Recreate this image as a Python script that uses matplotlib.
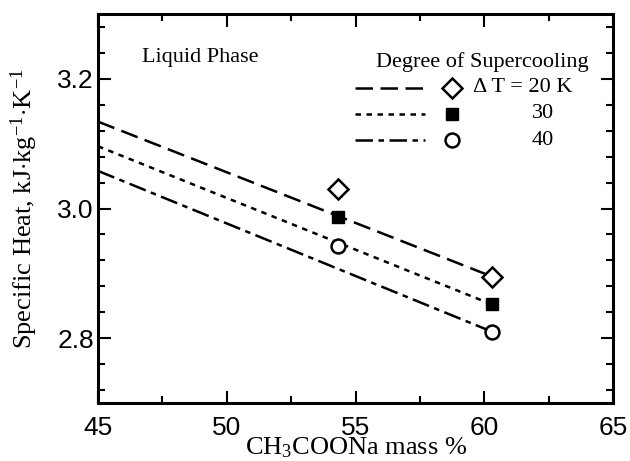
import matplotlib
matplotlib.use('Agg')
import matplotlib.pyplot as plt
from matplotlib.ticker import MultipleLocator

# measured points (CH3COONa mass %, specific heat)
mass = [54.3, 60.3]
cp_20 = [3.030, 2.895]
cp_30 = [2.987, 2.852]
cp_40 = [2.942, 2.810]

# fitted lines, from 45 % to the last measurement
line_x = [45.0, 60.3]
line_20 = [3.134, 2.895]
line_30 = [3.096, 2.852]
line_40 = [3.058, 2.810]

labels = ['\u0394 T = 20 K', '30', '40']

plt.rcParams['mathtext.fontset'] = 'custom'
plt.rcParams['mathtext.rm'] = 'Liberation Serif'
plt.rcParams['mathtext.it'] = 'Liberation Serif:italic'

serif = 'Liberation Serif'
sans = 'Liberation Sans'

fig = plt.figure(figsize=(6.3, 4.61), dpi=100)
ax = fig.add_axes([0.1556, 0.1258, 0.8175, 0.8438])

styles = [(0, (7, 3)), (0, (2.2, 2.2)), (0, (7, 2.2, 2.2, 2.2))]
mk = [dict(marker='D', ms=10.5, mfc='white', mec='black', mew=1.8),
      dict(marker='s', ms=9, mfc='black', mec='black', mew=1),
      dict(marker='o', ms=10, mfc='white', mec='black', mew=1.8)]

for lx, ly, ls in zip([line_x] * 3, [line_20, line_30, line_40], styles):
    ax.plot(lx, ly, color='black', lw=1.8, linestyle=ls)
for cp, m in zip([cp_20, cp_30, cp_40], mk):
    ax.plot(mass, cp, linestyle='none', zorder=3, **m)

ax.set_xlim(45, 65)
ax.set_ylim(2.7, 3.3)
ax.xaxis.set_major_locator(MultipleLocator(5))
ax.xaxis.set_minor_locator(MultipleLocator(2.5))
ax.yaxis.set_minor_locator(MultipleLocator(0.04))
ax.set_yticks([2.8, 3.0, 3.2])
ax.set_yticklabels(['2.8', '3.0', '3.2'])
ax.tick_params(which='both', direction='in', top=True, right=True, width=1.5)
ax.tick_params(which='major', length=9)
ax.tick_params(which='minor', length=5)
ax.tick_params(axis='x', pad=9)
ax.tick_params(axis='y', pad=3)
for t in ax.get_xticklabels() + ax.get_yticklabels():
    t.set_fontfamily(sans)
    t.set_fontsize(19)
for s in ax.spines.values():
    s.set_linewidth(2.2)

ax.set_xlabel(r'CH$_3$COONa mass %', fontfamily=serif, fontsize=19)
ax.xaxis.set_label_coords(0.5, -0.083, transform=ax.transAxes)
ax.set_ylabel(r'Specific Heat, kJ$\cdot$kg$^{-1}$$\cdot$K$^{-1}$', fontfamily=serif,
              fontsize=19)
ax.yaxis.set_label_coords(-0.112, 0.5)

ax.text(0.085, 0.889, 'Liquid Phase', transform=ax.transAxes, fontfamily=serif,
        fontsize=16, va='center', ha='left')
ax.text(0.746, 0.877, 'Degree of Supercooling', transform=ax.transAxes,
        fontfamily=serif, fontsize=16, va='center', ha='center')

# hand-made legend
rows = [0.81, 0.743, 0.676]
for y, ls, m, lab in zip(rows, styles, mk, labels):
    ax.plot([0.499, 0.635], [y, y], transform=ax.transAxes, color='black',
            lw=1.8, linestyle=ls, clip_on=False)
    ax.plot([0.687], [y], transform=ax.transAxes, linestyle='none',
            clip_on=False, **m)
    if lab.startswith('\u0394'):
        ax.text(0.728, y, lab, transform=ax.transAxes, fontfamily=serif,
                fontsize=16, va='center', ha='left')
    else:
        ax.text(0.864, y, lab, transform=ax.transAxes, fontfamily=serif,
                fontsize=16, va='center', ha='center')

fig.savefig('out.png', dpi=100)
